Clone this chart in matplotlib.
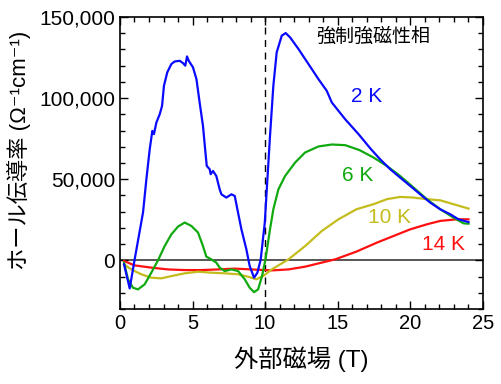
import numpy as np
import matplotlib
matplotlib.use("Agg")
import matplotlib.pyplot as plt
from matplotlib.ticker import MultipleLocator, FuncFormatter

plt.rcParams["font.family"] = ["Liberation Sans", "Noto Sans CJK JP", "DejaVu Sans"]

# 2 K
x_2k = [0.28, 0.67, 1.0, 1.59, 1.82, 2.05, 2.23, 2.34, 2.51, 2.74, 2.9, 3.03, 3.26, 3.54,
        3.77, 4.12, 4.34, 4.5, 4.62, 4.74, 5.03, 5.27, 5.49, 5.72, 5.89, 5.98, 6.18, 6.25,
        6.41, 6.64, 6.87, 6.99, 7.33, 7.68, 7.91, 8.09, 8.37, 8.71, 8.94, 9.24, 9.47, 9.7,
        9.98, 10.16, 10.34, 10.57, 10.8, 11.15, 11.42, 11.72, 12.3, 12.99, 13.68, 14.25,
        14.6, 15.52, 16.44, 17.3, 17.93, 18.62, 19.31, 20.0, 20.69, 21.38, 22.07, 22.76,
        23.33, 24.02]
y_2k = [-2500, -17300, 0, 29600, 50000, 68500, 79800, 77800, 85000, 90100, 95200, 107600,
        115900, 121000, 122600, 123000, 121600, 120000, 125700, 123000, 119000, 111700,
        97300, 82900, 66500, 58200, 56200, 53100, 55100, 52000, 43800, 40700, 38700, 40700,
        39700, 31500, 19100, 6800, -3500, -10700, -7600, 600, 23300, 50000, 76700, 107600,
        128200, 138500, 140100, 137500, 130300, 121000, 111700, 104500, 97300, 87000, 77800,
        68500, 62300, 56200, 51000, 45900, 40700, 35600, 31500, 28400, 25300, 23600]

# 6 K
x_6k = [0.28, 0.55, 0.9, 1.24, 1.7, 2.16, 2.62, 3.08, 3.54, 4.0, 4.46, 4.92, 5.38, 5.72,
        5.95, 6.3, 6.64, 6.87, 7.22, 7.68, 8.14, 8.6, 8.94, 9.24, 9.52, 9.79, 10.03, 10.2,
        10.34, 10.57, 10.92, 11.38, 12.07, 12.76, 13.68, 14.6, 15.52, 16.5, 17.47, 18.39,
        19.31, 20.23, 21.15, 22.07, 22.99, 23.68, 24.02]
y_6k = [-1400, -11700, -16900, -17900, -14800, -7600, 0, 8800, 16000, 20800, 23300, 21200,
        17100, 8800, 2300, 600, -1400, -4500, -6600, -5600, -6600, -11700, -16900, -19600,
        -17900, -9700, 600, 10900, 19100, 31500, 43800, 52000, 60300, 66500, 70200, 71400,
        71000, 68000, 63400, 58200, 52000, 44900, 37700, 31500, 26300, 22800, 22600]

# 10 K
x_10k = [0.28, 0.78, 1.47, 2.16, 2.85, 3.54, 4.46, 5.38, 6.3, 7.22, 8.14, 8.83, 9.4, 9.86,
         10.46, 11.61, 12.76, 13.91, 15.06, 16.3, 17.47, 18.39, 19.31, 20.23, 21.15, 22.07,
         22.99, 24.02]
y_10k = [-2500, -5600, -8600, -10700, -11100, -9700, -8000, -7000, -7600, -8000, -8600,
         -10100, -11700, -9700, -5600, 600, 8800, 18100, 25300, 31500, 34600, 37700, 39100,
         38700, 37700, 37000, 34600, 31900]

# 14 K
x_14k = [0.28, 1.0, 2.16, 3.31, 4.46, 5.61, 6.76, 7.91, 9.06, 9.98, 10.46, 11.61, 12.76,
         13.91, 14.83, 16.3, 17.7, 18.85, 20.0, 21.15, 22.07, 23.22, 24.02]
y_14k = [-400, -3100, -4500, -5600, -6000, -6000, -5600, -5100, -5600, -6000, -6200, -5600,
         -3900, -1400, 600, 5400, 10900, 15000, 19100, 22200, 24300, 25300, 25300]

fig = plt.figure(figsize=(5.02, 3.84), dpi=100)
ax = fig.add_axes([0.239, 0.1953, 0.7226, 0.7604])

ax.axhline(0, color="#3a3a3a", lw=1.2, zorder=1)
ax.axvline(10, color="black", lw=1.0, ls=(0, (5, 4)), zorder=1)

ax.plot(x_14k, y_14k, color="#ff1010", lw=1.6)
ax.plot(x_10k, y_10k, color="#c4bc1c", lw=1.6)
ax.plot(x_6k, y_6k, color="#10aa10", lw=1.6)
ax.plot(x_2k, y_2k, color="#0a0aff", lw=1.6)

ax.text(16.97, 101200, "2 K", color="#0a0aff", fontsize=15, ha="center", va="center")
ax.text(16.35, 52500, "6 K", color="#10aa10", fontsize=15, ha="center", va="center")
ax.text(18.6, 26500, "10 K", color="#c4bc1c", fontsize=15, ha="center", va="center")
ax.text(22.3, 9900, "14 K", color="#ff1010", fontsize=15, ha="center", va="center")
ax.text(17.45, 137700, "強制強磁性相", color="black", fontsize=13.7, ha="center", va="center")

ax.set_xlim(0, 25)
ax.set_ylim(-30000, 150000)
ax.xaxis.set_major_locator(MultipleLocator(5))
ax.xaxis.set_minor_locator(MultipleLocator(1))
ax.yaxis.set_major_locator(MultipleLocator(50000))
ax.yaxis.set_minor_locator(MultipleLocator(10000))
ax.yaxis.set_major_formatter(FuncFormatter(lambda v, p: f"{int(v):,}"))
ax.tick_params(which="both", direction="in", top=True, right=True)
ax.tick_params(axis="y", labelsize=15)
ax.tick_params(axis="x", labelsize=14.5)
ax.tick_params(which="major", length=6, width=1)
ax.tick_params(which="minor", length=3.5, width=1)
for s in ax.spines.values():
    s.set_linewidth(1.2)

ax.set_xlabel("外部磁場 (T)", fontsize=17.5, labelpad=10)
ax.set_ylabel("ホール伝導率 (Ω⁻¹cm⁻¹)", fontsize=16)
ax.yaxis.set_label_coords(-0.245, 0.543)

fig.savefig("out.png", dpi=100)
